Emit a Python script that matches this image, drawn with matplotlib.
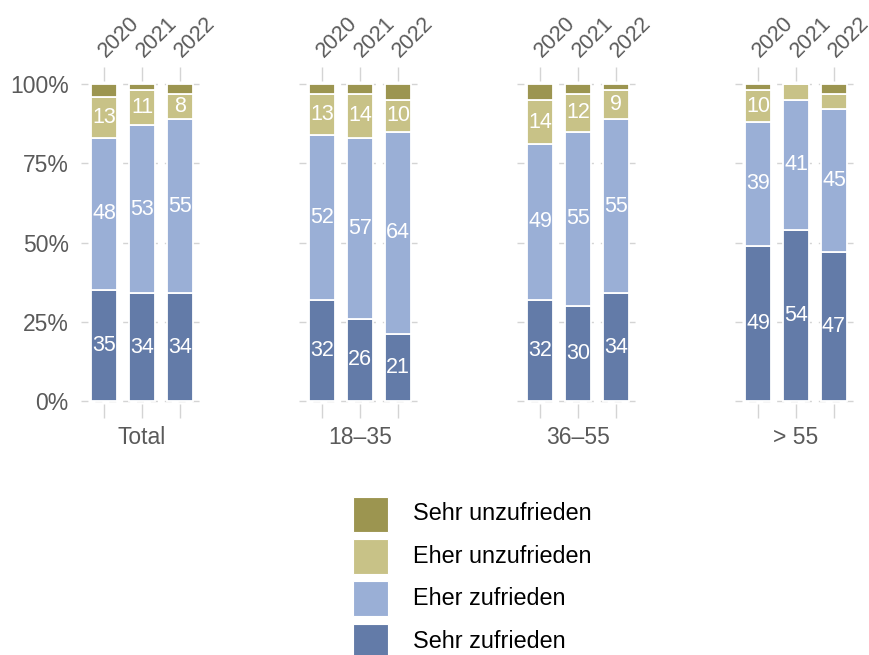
import matplotlib
matplotlib.use("Agg")
import matplotlib.pyplot as plt
from matplotlib.patches import Rectangle
import numpy as np

plt.rcParams['font.family'] = ['Liberation Sans', 'DejaVu Sans']

groups = ["Total", "18–35", "36–55", "> 55"]
years = ["2020", "2021", "2022"]
categories = ["Sehr zufrieden", "Eher zufrieden", "Eher unzufrieden", "Sehr unzufrieden"]
colors = ["#637BA8", "#9AAFD6", "#C8C287", "#9C9550"]

# values in percent: [group][year]
sehr_zufrieden = [[35, 34, 34], [32, 26, 21], [32, 30, 34], [49, 54, 47]]
eher_zufrieden = [[48, 53, 55], [52, 57, 64], [49, 55, 55], [39, 41, 45]]
eher_unzufrieden = [[13, 11, 8], [13, 14, 10], [14, 12, 9], [10, 5, 5]]
sehr_unzufrieden = [[4, 2, 3], [3, 3, 5], [5, 3, 2], [2, 0, 3]]

series = [sehr_zufrieden, eher_zufrieden, eher_unzufrieden, sehr_unzufrieden]

W, H = 869, 655
fig = plt.figure(figsize=(W / 100, H / 100), dpi=100)

unit = 38.0
pad_y = 0.008
top_px, bot_px = 84 - pad_y * 317, 401 + pad_y * 317
panel_centers = [142, 360, 578, 796]
tick_gray = "#d4d4d4"
text_gray = "#5a5a5a"

for gi, g in enumerate(groups):
    left = panel_centers[gi] - 1.6 * unit
    ax = fig.add_axes([left / W, (H - bot_px) / H, 3.2 * unit / W, (bot_px - top_px) / H])
    ax.set_xlim(-0.6, 2.6)
    ax.set_ylim(-pad_y, 1 + pad_y)
    for s in ax.spines.values():
        s.set_visible(False)
    for yv in [0, 0.25, 0.5, 0.75, 1.0]:
        ax.axhline(yv, color=tick_gray, lw=1.0, ls=(0, (5, 5)), zorder=0)
    x = np.arange(len(years))
    bottom = np.zeros(len(years))
    for si, ser in enumerate(series):
        vals = np.array(ser[gi]) / 100.0
        ax.bar(x, vals, width=0.7, bottom=bottom, color=colors[si],
               edgecolor="white", linewidth=1.3, zorder=2)
        for xi, (v, b) in enumerate(zip(vals, bottom)):
            if v * 100 >= 6:
                ax.text(xi, b + v / 2, f"{int(round(v * 100))}", ha="center", va="center",
                        color="white", fontsize=15.5, zorder=3)
        bottom = bottom + vals
    ax.set_xticks(x)
    ax.set_xticklabels([])
    ax.tick_params(axis="x", which="both", bottom=True, top=True, length=10,
                   width=1.0, color=tick_gray, direction="out")
    for xi, yr in enumerate(years):
        ax.annotate(yr, xy=(xi, 1), xycoords=("data", "axes fraction"),
                    xytext=(1.5, 17), textcoords="offset points", rotation=45,
                    rotation_mode="anchor", ha="left", va="baseline",
                    fontsize=15.5, color=text_gray)
    ax.text(1, -0.107, g, transform=ax.get_xaxis_transform(), ha="center",
            va="center", fontsize=16.5, color=text_gray)
    ax.set_yticks([0, 0.25, 0.5, 0.75, 1.0])
    if gi == 0:
        ax.set_yticklabels(["0%", "25%", "50%", "75%", "100%"], fontsize=16.5, color=text_gray)
        ax.tick_params(axis="y", length=0, pad=9)
    else:
        ax.set_yticklabels([])
        ax.tick_params(axis="y", length=0)

# legend (top to bottom: reverse stacking order)
leg_order = [3, 2, 1, 0]
row_y = [514, 556.5, 598.8, 641]
for k, si in enumerate(leg_order):
    cy = row_y[k]
    fig.add_artist(Rectangle(((353.3) / W, (H - cy - 17.5) / H), 35 / W, 35 / H,
                             transform=fig.transFigure, facecolor=colors[si],
                             edgecolor="white", linewidth=0.8))
    fig.text(413 / W, (H - cy) / H, categories[si], ha="left", va="center",
             fontsize=16.8, color="black")

fig.savefig("out.png", dpi=100)
